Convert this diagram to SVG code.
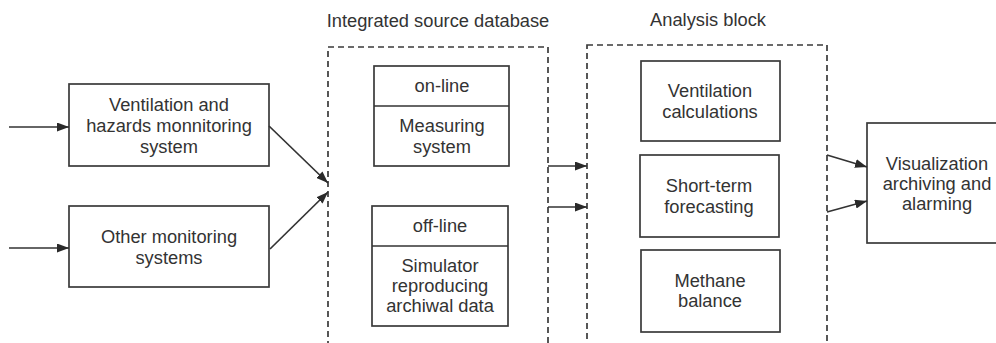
<svg xmlns="http://www.w3.org/2000/svg" width="996" height="343" viewBox="0 0 996 343">
<defs>
<style>
.box{fill:#fff;stroke:#3a3a3a;stroke-width:1.7}
.dash{fill:none;stroke:#3a3a3a;stroke-width:1.7;stroke-dasharray:6 4}
.ln{fill:none;stroke:#333;stroke-width:1.7}
text{font-family:"Liberation Sans",Arial,sans-serif;font-size:18.3px;fill:#333;text-anchor:middle}
</style>
<marker id="ah" viewBox="0 0 12 9" refX="12" refY="4.5" markerWidth="12" markerHeight="9" markerUnits="userSpaceOnUse" orient="auto">
<path d="M0,0 L12,4.5 L0,9 Z" fill="#2a2a2a"/>
</marker>
</defs>
<rect width="996" height="343" fill="#fff"/>

<g id="integrated-db">
<rect class="dash" x="328" y="47" width="220" height="310"/>
<text x="438" y="27">Integrated source database</text>
</g>
<g id="analysis-block">
<rect class="dash" x="587" y="45" width="240" height="312"/>
<text x="708" y="26">Analysis block</text>
</g>

<g id="ventilation-monitoring">
<rect class="box" x="69" y="84" width="200" height="82"/>
<text x="169" y="111">Ventilation and</text>
<text x="169" y="132">hazards monnitoring</text>
<text x="169" y="153">system</text>
</g>
<g id="other-monitoring">
<rect class="box" x="69" y="206" width="200" height="81"/>
<text x="169" y="243">Other monitoring</text>
<text x="169" y="264">systems</text>
</g>

<g id="online">
<rect class="box" x="374" y="66" width="135" height="100"/>
<line class="ln" x1="374" y1="106" x2="509" y2="106"/>
<text x="442" y="92">on-line</text>
<text x="442" y="132">Measuring</text>
<text x="442" y="153">system</text>
</g>
<g id="offline">
<rect class="box" x="372" y="206" width="136" height="120"/>
<line class="ln" x1="372" y1="246" x2="508" y2="246"/>
<text x="440" y="232">off-line</text>
<text x="440" y="272">Simulator</text>
<text x="440" y="292">reproducing</text>
<text x="440" y="312">archiwal data</text>
</g>

<g id="ventilation-calc">
<rect class="box" x="641" y="61" width="139" height="80"/>
<text x="710" y="97">Ventilation</text>
<text x="710" y="118">calculations</text>
</g>
<g id="short-term">
<rect class="box" x="640" y="155" width="139" height="82"/>
<text x="709" y="192">Short-term</text>
<text x="709" y="213">forecasting</text>
</g>
<g id="methane">
<rect class="box" x="641" y="250" width="139" height="82"/>
<text x="710" y="287">Methane</text>
<text x="710" y="307">balance</text>
</g>

<g id="visualization">
<rect class="box" x="867" y="123" width="140" height="120"/>
<text x="937" y="170">Visualization</text>
<text x="937" y="190">archiving and</text>
<text x="937" y="210">alarming</text>
</g>

<g id="connectors">
<line class="ln" x1="9" y1="127" x2="69" y2="127" marker-end="url(#ah)"/>
<line class="ln" x1="9" y1="248" x2="69" y2="248" marker-end="url(#ah)"/>
<line class="ln" x1="269" y1="126" x2="328" y2="183" marker-end="url(#ah)"/>
<line class="ln" x1="270" y1="249" x2="328" y2="192" marker-end="url(#ah)"/>
<line class="ln" x1="548" y1="166" x2="587" y2="166" marker-end="url(#ah)"/>
<line class="ln" x1="548" y1="207" x2="587" y2="207" marker-end="url(#ah)"/>
<line class="ln" x1="827" y1="155" x2="867" y2="167" marker-end="url(#ah)"/>
<line class="ln" x1="827" y1="212" x2="867" y2="201" marker-end="url(#ah)"/>
</g>
</svg>
